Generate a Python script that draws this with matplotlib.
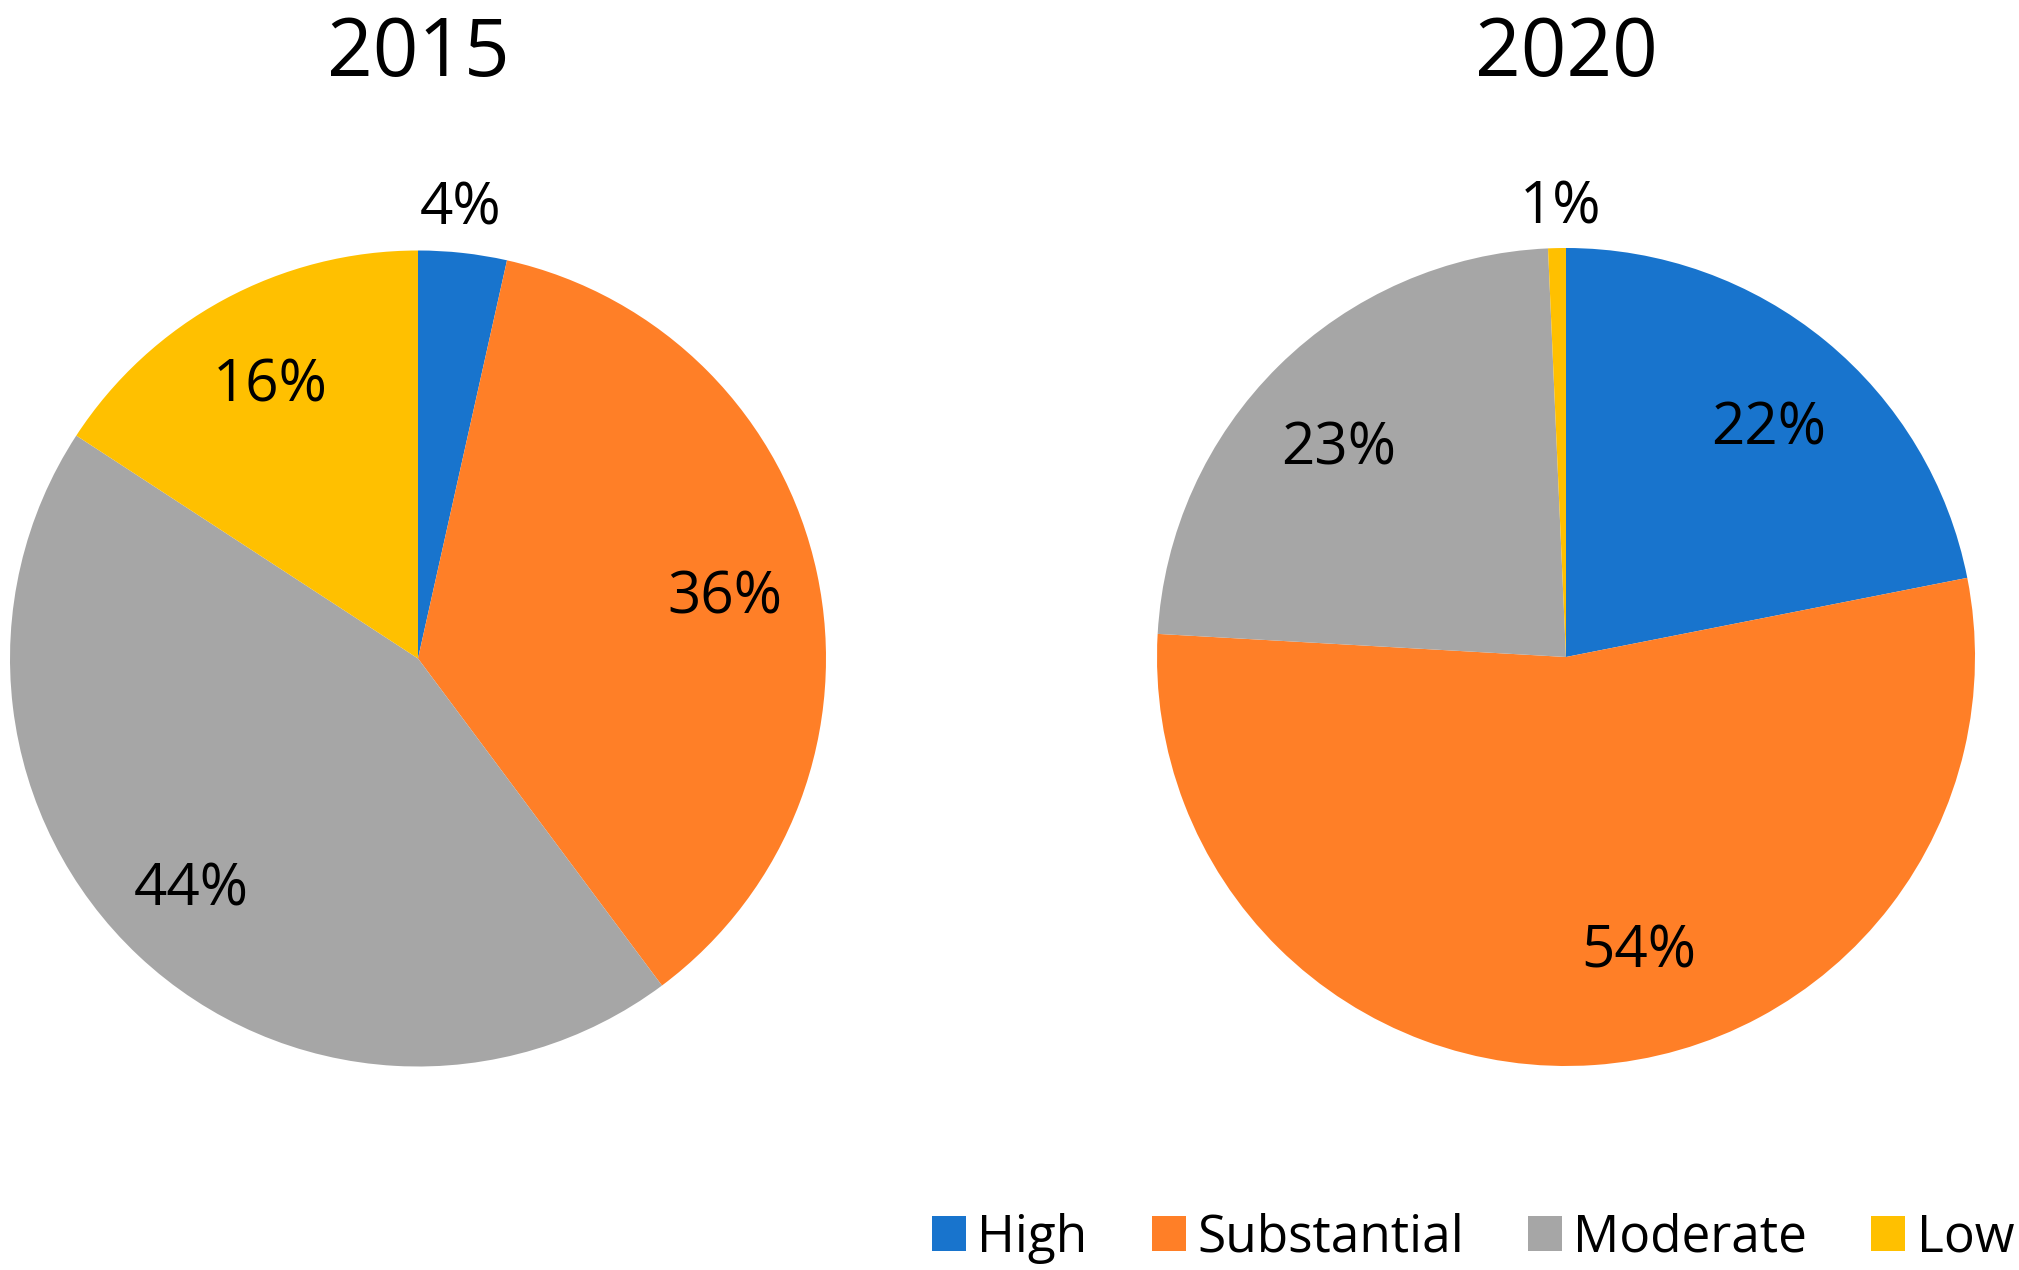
import numpy as np
import matplotlib
matplotlib.use("Agg")
import matplotlib.pyplot as plt

plt.rcParams['font.family'] = ['Open Sans', 'DejaVu Sans']

# data
categories = ["High", "Substantial", "Moderate", "Low"]
years = ["2015", "2020"]
values_2015 = [3.5, 36.3, 44.4, 15.8]
values_2020 = [21.9, 54.0, 23.4, 0.7]
labels_2015 = ["4%", "36%", "44%", "16%"]
labels_2020 = ["22%", "54%", "23%", "1%"]

colors = ["#1874CD", "#FF7F27", "#A6A6A6", "#FFC000"]

W, H = 2019, 1270
fig = plt.figure(figsize=(W / 100, H / 100), dpi=100)

# pie centre / radius in pixels, label placement (fraction of radius, angle shift in deg)
pies = [
    (418, 658.5, 408, values_2015, labels_2015,
     [(1.122, 1.0), (0.769, 0.25), (0.783, -2.0), (0.773, -0.6)]),
    (1566, 657, 409, values_2020, labels_2020,
     [(0.758, -1.35), (0.727, 10.3), (0.764, 1.95), (1.115, -0.6)]),
]

wedges_for_legend = None
for (cx, cy, r, vals, labs, place), year in zip(pies, years):
    ax = fig.add_axes([(cx - r) / W, 1 - (cy + r) / H, 2 * r / W, 2 * r / H])
    wedges, _ = ax.pie(vals, colors=colors, startangle=90, counterclock=False,
                       radius=1.0, wedgeprops=dict(linewidth=0))
    ax.set_xlim(-1, 1)
    ax.set_ylim(-1, 1)
    ax.set_aspect('equal')
    ax.axis('off')
    for w, lab, (d, shift) in zip(wedges, labs, place):
        ang = np.deg2rad((w.theta1 + w.theta2) / 2 + shift)
        ax.text(d * np.cos(ang), d * np.sin(ang), lab, ha='center',
                va='center_baseline', fontsize=42, color='black')
    fig.text(cx / W, 1 - 45 / H, year, ha='center', va='center_baseline',
             fontsize=57.5)
    wedges_for_legend = wedges

fig.legend(wedges_for_legend, categories, loc='center right',
           bbox_to_anchor=(2014 / W, 1 - 1238 / H), ncol=4, frameon=False,
           fontsize=37, handlelength=0.66, handleheight=0.66,
           handletextpad=0.22, columnspacing=1.25, borderpad=0, borderaxespad=0)

fig.savefig("out.png", dpi=100)
